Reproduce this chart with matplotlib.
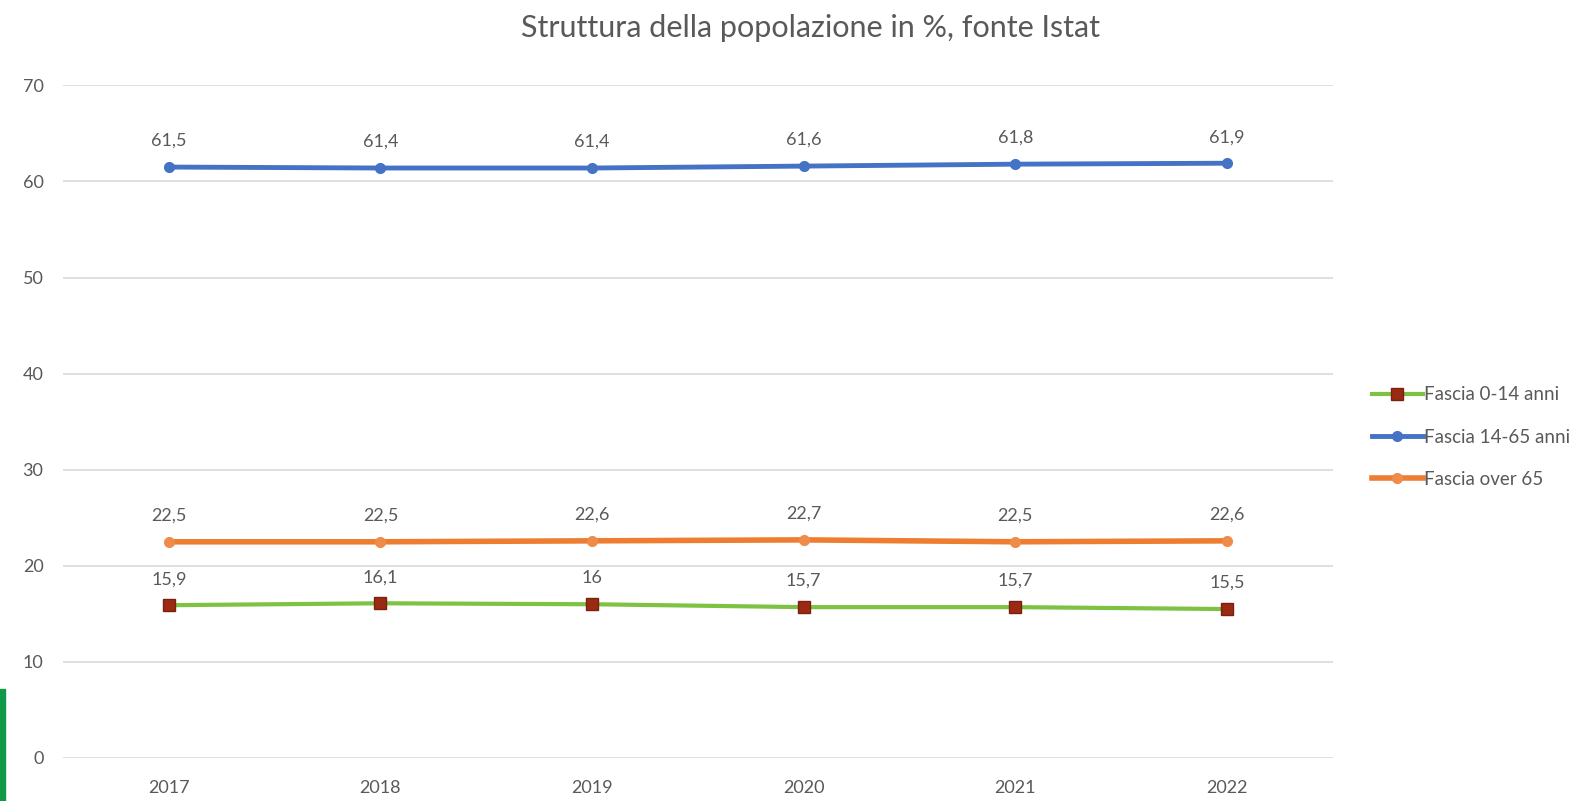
import matplotlib.pyplot as plt
from matplotlib.patches import Rectangle

plt.rcParams['font.family'] = ['Lato', 'DejaVu Sans']

anni = ['2017', '2018', '2019', '2020', '2021', '2022']
fascia_0_14 = [15.9, 16.1, 16.0, 15.7, 15.7, 15.5]
fascia_14_65 = [61.5, 61.4, 61.4, 61.6, 61.8, 61.9]
fascia_over65 = [22.5, 22.5, 22.6, 22.7, 22.5, 22.6]
etichette_0_14 = ['15,9', '16,1', '16', '15,7', '15,7', '15,5']
etichette_14_65 = ['61,5', '61,4', '61,4', '61,6', '61,8', '61,9']
etichette_over65 = ['22,5', '22,5', '22,6', '22,7', '22,5', '22,6']

grigio = '#595959'

fig = plt.figure(figsize=(15.95, 8.01), dpi=100)
ax = fig.add_axes([0.0395, 0.0537, 0.796, 0.8397])

x = range(len(anni))
ax.plot(x, fascia_0_14, color='#7dc242', lw=3, marker='s', ms=8,
        mfc='#9b2a12', mec='#7a2010', label='Fascia 0-14 anni', zorder=3)
ax.plot(x, fascia_14_65, color='#4472c4', lw=3.5, marker='o', ms=7,
        mfc='#4472c4', mec='#4472c4', label='Fascia 14-65 anni', zorder=3)
ax.plot(x, fascia_over65, color='#ed7d31', lw=4, marker='o', ms=7,
        mfc='#ef8c4a', mec='#ef8c4a', label='Fascia over 65', zorder=3)

for vals, labs in [(fascia_0_14, etichette_0_14), (fascia_14_65, etichette_14_65),
                   (fascia_over65, etichette_over65)]:
    for i, (v, t) in enumerate(zip(vals, labs)):
        ax.annotate(t, (i, v), xytext=(0, 13), textcoords='offset points',
                    ha='center', va='bottom', fontsize=13, color=grigio)

ax.set_xlim(-0.5, 5.5)
ax.set_ylim(0, 70)
ax.set_yticks(range(0, 71, 10))
ax.set_xticks(list(x))
ax.set_xticklabels(anni)
ax.grid(axis='y', color='#d9d9d9', lw=1.2)
ax.set_axisbelow(True)
for s in ax.spines.values():
    s.set_visible(False)
ax.tick_params(length=0, colors=grigio, labelsize=13)
ax.tick_params(axis='y', pad=14)
ax.tick_params(axis='x', pad=16)

fig.suptitle('Struttura della popolazione in %, fonte Istat', x=0.508, y=0.982,
             fontsize=22, color=grigio)

ax.legend(loc='center left', bbox_to_anchor=(1.031, 0.477), frameon=False,
          fontsize=13.5, labelcolor=grigio, handlelength=2.7, handletextpad=0.1,
          labelspacing=1.35, borderpad=0, borderaxespad=0)

fig.patches.append(Rectangle((0, 0), 0.003, 0.14, transform=fig.transFigure,
                             color='#109a48', zorder=5))

fig.savefig('out.png', dpi=100)
